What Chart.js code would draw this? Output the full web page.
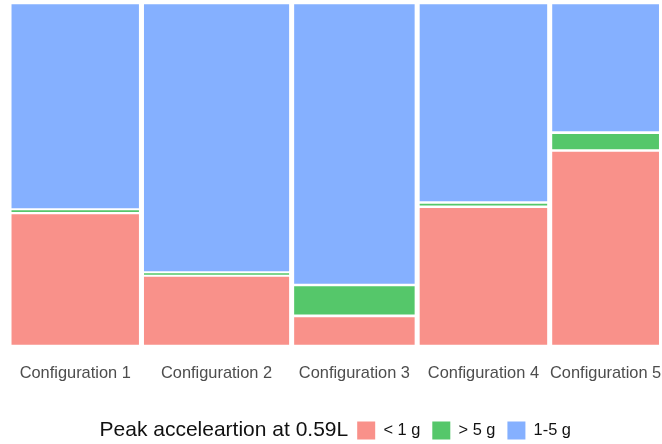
<!DOCTYPE html>
<html>
<head>
  <meta charset="utf-8" />
  <title>Peak acceleartion at 0.59L</title>
  <script src="https://cdn.jsdelivr.net/npm/chart.js@4.4.0/dist/chart.umd.min.js"></script>
  <style>
    html, body { margin: 0; padding: 0; background: #fff; }
    #wrap { width: 662px; height: 444px; position: relative; }
  </style>
</head>
<body>

<div id="wrap">
  <canvas id="mosaicChart"></canvas>
</div>

<script>
  // Columns: share of cases per configuration (bar width)
  const configs = ['Configuration 1', 'Configuration 2', 'Configuration 3', 'Configuration 4', 'Configuration 5'];
  const widths = [0.2027, 0.2298, 0.1921, 0.2028, 0.1711];

  // Proportions inside each column
  const below1g = [0.388, 0.206, 0.088, 0.406, 0.570];
  const above5g = [0.010, 0.008, 0.090, 0.012, 0.052];
  const between1and5g = [0.602, 0.786, 0.822, 0.582, 0.378];

  const seriesNames = ['< 1 g', '> 5 g', '1-5 g'];
  const seriesColors = ['#F9918A', '#55C76A', '#85B0FF'];
  const legendTitle = 'Peak acceleartion at 0.59L';

  const fontFamily = '"Liberation Sans", Arial, sans-serif';
  const titleFont = '21px ' + fontFamily;
  const gapX = 5.7;   // white space between columns (px)
  const gapY = 3.3;   // white space between segments (px)
  const titleGap = 9;

  // left edge and centre of every column on the 0..total axis
  const total = widths.reduce((a, b) => a + b, 0);
  const lefts = [];
  let acc = 0;
  widths.forEach(w => { lefts.push(acc); acc += w; });
  const centers = lefts.map((l, i) => l + widths[i] / 2);

  // give each bar the width of its column and leave white gaps
  const mosaicPlugin = {
    id: 'mosaic',
    afterDatasetsUpdate(chart) {
      const xs = chart.scales.x;
      chart.data.datasets.forEach((ds, di) => {
        chart.getDatasetMeta(di).data.forEach((bar, i) => {
          const l = xs.getPixelForValue(lefts[i]);
          const r = xs.getPixelForValue(lefts[i] + widths[i]);
          bar.x = (l + r) / 2;
          bar.width = r - l - gapX;
          let top = bar.y + gapY / 2;
          let base = bar.base - gapY / 2;
          if (base - top < 1) {
            const m = (bar.y + bar.base) / 2;
            top = m - 0.5;
            base = m + 0.5;
          }
          bar.y = top;
          bar.base = base;
        });
      });
    }
  };

  // legend title drawn on the same line, left of the keys
  const legendTitlePlugin = {
    id: 'legendTitle',
    afterLayout(chart) {
      const lg = chart.legend;
      const ctx = chart.ctx;
      ctx.save();
      ctx.font = titleFont;
      const w = ctx.measureText(legendTitle).width;
      ctx.restore();
      const shift = (w + titleGap) / 2;
      lg.left += shift;
      lg.right += shift;
    },
    afterDraw(chart) {
      const lg = chart.legend;
      const hb = lg.legendHitBoxes[0];
      if (!hb) return;
      const ctx = chart.ctx;
      ctx.save();
      ctx.font = titleFont;
      ctx.fillStyle = '#111';
      ctx.textAlign = 'right';
      ctx.textBaseline = 'middle';
      ctx.fillText(legendTitle, hb.left - titleGap, hb.top + hb.height / 2);
      ctx.restore();
    }
  };

  const series = [below1g, above5g, between1and5g];
  const datasets = series.map((vals, k) => ({
    label: seriesNames[k],
    data: vals.map((v, i) => ({ x: centers[i], y: v })),
    backgroundColor: seriesColors[k],
    borderWidth: 0,
    barPercentage: 1,
    categoryPercentage: 1
  }));

  new Chart(document.getElementById('mosaicChart').getContext('2d'), {
    type: 'bar',
    data: { datasets },
    plugins: [mosaicPlugin, legendTitlePlugin],
    options: {
      responsive: true,
      maintainAspectRatio: false,
      animation: false,
      layout: { padding: { left: 9, right: 0.5, top: 3, bottom: -5.5 } },
      plugins: {
        tooltip: { enabled: false },
        legend: {
          position: 'bottom',
          align: 'center',
          labels: {
            boxWidth: 18,
            boxHeight: 18,
            padding: 12,
            color: '#111',
            font: { family: fontFamily, size: 16.4 }
          }
        }
      },
      scales: {
        x: {
          type: 'linear',
          stacked: true,
          min: 0,
          max: total,
          offset: false,
          grid: { display: false, drawTicks: false },
          border: { display: false },
          afterBuildTicks: scale => { scale.ticks = centers.map(v => ({ value: v })); },
          afterFit: scale => {
            scale.height = 63.5;
            scale.paddingLeft = 0;
            scale.paddingRight = 0;
          },
          ticks: {
            autoSkip: false,
            maxRotation: 0,
            padding: 18,
            color: '#4D4D4D',
            font: { family: fontFamily, size: 16.4 },
            callback: (value, index) => configs[index]
          }
        },
        y: {
          stacked: true,
          min: 0,
          max: 1,
          display: false
        }
      }
    }
  });
</script>

</body>
</html>
